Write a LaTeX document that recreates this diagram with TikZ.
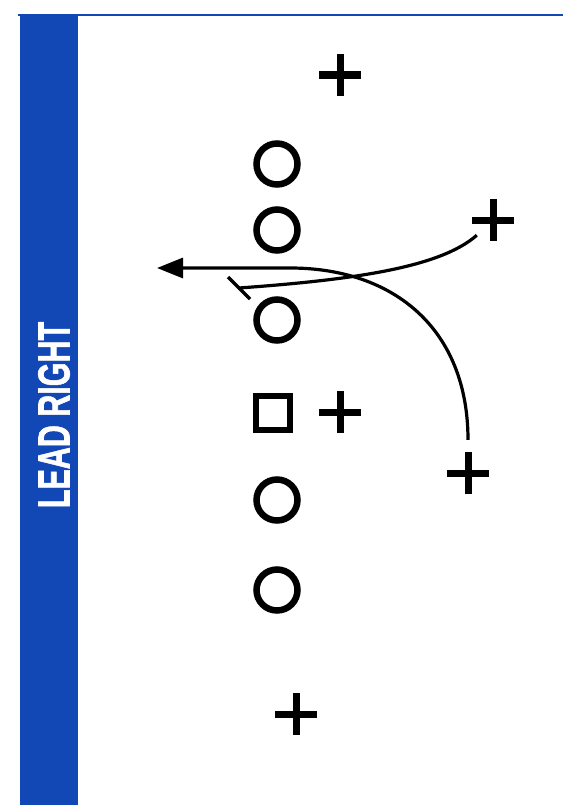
\documentclass[tikz,border=0pt]{standalone}
\usepackage{fontspec}
\setmainfont{Liberation Sans}
\newfontfamily\titlefont[FakeBold=1.6]{Liberation Sans Bold}
\usetikzlibrary{arrows.meta}
\definecolor{barblue}{RGB}{18,72,182}
\tikzset{
  man/.style={draw, circle, line width=6.5bp, minimum size=41bp, inner sep=0pt},
  ctr/.style={draw, rectangle, line width=6.5bp, minimum size=34bp, inner sep=0pt},
  dman/.style={minimum size=42bp, inner sep=0pt,
    path picture={\draw[line width=7bp] (path picture bounding box.north) -- (path picture bounding box.south)
      (path picture bounding box.west) -- (path picture bounding box.east);}},
  route/.style={line width=3.2bp}
}
\begin{document}
\begin{tikzpicture}[x=1bp, y=-1bp]
    \useasboundingbox (0,0) rectangle (563,805);
    \fill[barblue] (20,15) rectangle (78,805);
    \draw[barblue, line width=2.5bp] (18,15) -- (563,15);
    \node[rotate=90, text=white, inner sep=0pt, font=\titlefont\fontsize{45}{45}\selectfont] (title) at (54,415) {\scalebox{0.68}[1]{LEAD RIGHT}};
    % offensive line, centre and backs
    \foreach \y [count=\i] in {164,230,320,500,590}{
        \node[man] (o\i) at (277,\y) {};
    }
    \node[ctr] (c) at (273,413) {};
    \node[dman] (qb) at (340,412) {};
    \node[dman] (te) at (340,75) {};
    \node[dman] (wr) at (493,220) {};
    \node[dman] (rb) at (468,473) {};
    \node[dman] (fb) at (296,714) {};
    % routes
    \coordinate (tip) at (157,268);
    \coordinate (blk) at (239,288);
    \draw[route, -{Triangle[length=26bp,width=20bp]}] ([yshift=12bp]rb.north) .. controls (468,330) and (395,268) .. (290,268) -- (tip);
    \draw[route] ([xshift=5bp,yshift=6bp]wr.south west) .. controls (440,268) and (350,280) .. (blk);
    \draw[route] ([shift={(-11,-11)}]blk) -- ([shift={(11,11)}]blk);
\end{tikzpicture}
\end{document}
